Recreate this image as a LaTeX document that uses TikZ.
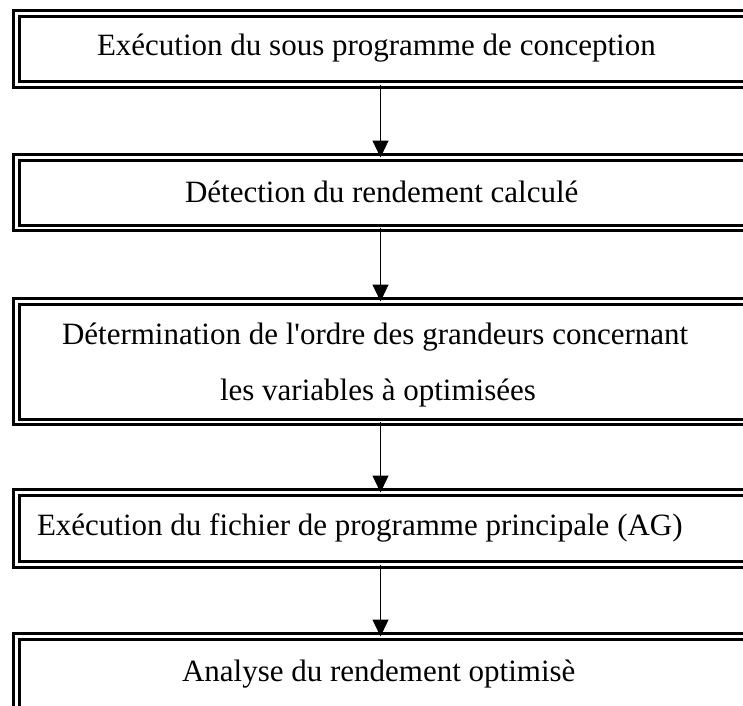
\documentclass[tikz,border=0pt]{standalone}
\usepackage{fontspec}
\setmainfont{Liberation Serif}
\usetikzlibrary{arrows.meta}
\begin{document}
\begin{tikzpicture}[x=1pt,y=-1pt,
  stepbox/.style={draw, double, line width=3pt, double distance=2.3pt,
    minimum width=743.5pt, inner sep=0pt, outer sep=0pt, anchor=north west},
  caption/.style={anchor=base west, inner sep=0pt, outer sep=0pt,
    font=\fontsize{31}{37}\selectfont},
  flow/.style={-{Triangle[width=16pt,length=17pt]}, line width=1.2pt}]
  \useasboundingbox (0,0) rectangle (743,705);

  % process boxes (double border, running off the right edge)
  \node[stepbox, minimum height=71pt]   (b1) at (16.5,13.5)  {};
  \node[stepbox, minimum height=70.5pt] (b2) at (16.5,157.5) {};
  \node[stepbox, minimum height=120.5pt](b3) at (16.5,301.5) {};
  \node[stepbox, minimum height=72pt]   (b4) at (16.5,492.5) {};
  \node[stepbox, minimum height=100pt]  (b5) at (16.5,636.5) {};

  % box texts
  \node[caption] (t1)  at (97,55)   {Exécution du sous programme de conception};
  \node[caption] (t2)  at (185,202) {Détection du rendement calculé};
  \node[caption] (t3a) at (62,344)  {Détermination de l\textquotesingle ordre des grandeurs concernant};
  \node[caption] (t3b) at (220,400) {les variables à optimisées};
  \node[caption] (t4)  at (37,535)  {Exécution du fichier de programme principale (AG)};
  \node[caption] (t5)  at (182,681) {Analyse du rendement optimisè};

  % flow arrows
  \coordinate (ax) at (380.5,0);
  \draw[flow] (b1.south -| ax) -- (b2.north -| ax);
  \draw[flow] (b2.south -| ax) -- (b3.north -| ax);
  \draw[flow] (b3.south -| ax) -- (b4.north -| ax);
  \draw[flow] (b4.south -| ax) -- (b5.north -| ax);
\end{tikzpicture}
\end{document}
